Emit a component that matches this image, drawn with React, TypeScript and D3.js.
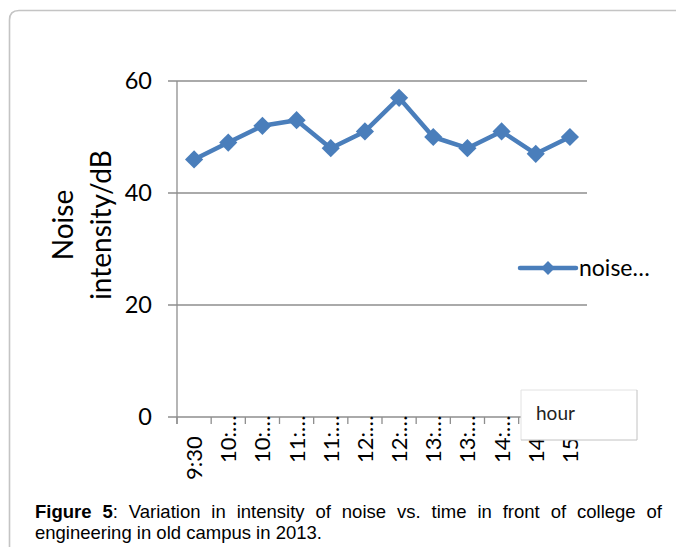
import React, { useLayoutEffect, useRef, useState } from 'react';
import * as d3 from 'd3';

const timeLabels = ["9:30", "10:…", "10:…", "11:…", "11:…", "12:…", "12:…", "13:…", "13:…", "14:…", "14", "15"];
const noiseValues = [46, 49, 52, 53, 48, 51, 57, 50, 48, 51, 47, 50];
const yTicks = [0, 20, 40, 60];
const seriesName = "noise…";
const yTitleLines = ["Noise", "intensity/dB"];
const xTitle = "hour";
const captionBold = "Figure 5";
const captionLine1 = ": Variation in intensity of noise vs. time in front of college of";
const captionLine2 = "engineering in old campus in 2013.";

const W = 676;
const H = 547;
const BLUE = "#4a7ebb";
const GRID = "#8e8e8e";
const CHART_FONT = "Lato, 'Open Sans', sans-serif";
const CAP_FONT = "'Liberation Sans', Arial, sans-serif";

export default function App() {
  const x = d3.scaleBand<string>()
    .domain(timeLabels.map((_, i) => String(i)))
    .range([177, 587]);
  const y = d3.scaleLinear().domain([0, 60]).range([417, 81]);
  const cx = (i: number) => (x(String(i)) as number) + x.bandwidth() / 2;

  const line = d3.line<number>()
    .x((_, i) => cx(i))
    .y((d) => y(d));

  const diamond = d3.symbol().type(d3.symbolSquare).size(165)();
  const legendDiamond = d3.symbol().type(d3.symbolSquare).size(95)();

  const capRef = useRef<SVGTextElement>(null);
  const [ws, setWs] = useState(0);
  const capLeft = 35;
  const capRight = 662;
  useLayoutEffect(() => {
    if (capRef.current) {
      const nat = capRef.current.getComputedTextLength();
      const full = captionBold + captionLine1;
      const gaps = full.split(" ").length - 1;
      setWs((capRight - capLeft - nat) / gaps);
    }
  }, []);

  const boundaries = d3.range(timeLabels.length + 1).map((i) =>
    i < timeLabels.length ? (x(String(i)) as number) : x.range()[1]
  );

  return (
    <svg
      width={W}
      height={H}
      style={{ position: 'absolute', left: 0, top: 0, background: '#fff' }}
    >
      {/* outer frame */}
      <path
        d={`M 9.5 ${H + 5} L 9.5 20 Q 9.5 10.5 19 10.5 L ${W + 5} 10.5`}
        fill="none"
        stroke="#c4c4c4"
        strokeWidth={1.6}
      />

      {/* gridlines + y ticks */}
      {yTicks.map((t) => (
        <g key={t}>
          <line x1={168} x2={t === 0 ? 521 : 587} y1={y(t)} y2={y(t)} stroke={GRID} strokeWidth={1.3} />
          <text
            x={152}
            y={y(t)}
            dy="0.36em"
            textAnchor="end"
            fontFamily={CHART_FONT}
            fontSize={23.5}
            fill="#000"
          >
            {t}
          </text>
        </g>
      ))}

      {/* y axis */}
      <line x1={177} x2={177} y1={y(60)} y2={424} stroke={GRID} strokeWidth={1.3} />

      {/* x ticks */}
      {boundaries.map((b, i) => (
        <line key={i} x1={b} x2={b} y1={417} y2={424} stroke={GRID} strokeWidth={1.3} />
      ))}

      {/* x labels */}
      {timeLabels.map((lab, i) => {
        const full = !lab.endsWith("…") && lab.length > 3;
        const yy = full ? 480 : 463;
        return (
          <text
            key={i}
            transform={`translate(${cx(i)},${yy}) rotate(-90)`}
            dy="0.36em"
            textAnchor="start"
            fontFamily={CHART_FONT}
            fontSize={22}
            fill="#000"
          >
            {lab}
          </text>
        );
      })}

      {/* series line */}
      <path
        d={line(noiseValues) || ''}
        fill="none"
        stroke={BLUE}
        strokeWidth={4.5}
        strokeLinejoin="round"
        strokeLinecap="round"
      />
      {noiseValues.map((v, i) => (
        <path
          key={i}
          d={diamond || ''}
          transform={`translate(${cx(i)},${y(v)}) rotate(45)`}
          fill={BLUE}
        />
      ))}

      {/* y title */}
      {yTitleLines.map((t, i) => (
        <text
          key={t}
          transform={`translate(${73 + i * 38},225) rotate(-90)`}
          textAnchor="middle"
          fontFamily={CHART_FONT}
          fontSize={28}
          fill="#000"
        >
          {t}
        </text>
      ))}

      {/* legend */}
      <line x1={520} x2={576} y1={268} y2={268} stroke={BLUE} strokeWidth={4.5} strokeLinecap="round" />
      <path d={legendDiamond || ''} transform={`translate(548,268) rotate(45)`} fill={BLUE} />
      <text x={579} y={268} dy="0.36em" fontFamily={CHART_FONT} fontSize={23} fill="#000">
        {seriesName}
      </text>

      {/* hour box */}
      <rect x={521} y={390} width={116} height={50} fill="#fff" />
      <line x1={521} x2={637} y1={390} y2={390} stroke="#e2e2e2" strokeWidth={1} />
      <line x1={521} x2={521} y1={390} y2={440} stroke="#e2e2e2" strokeWidth={1} />
      <line x1={637} x2={637} y1={390} y2={440} stroke="#c2c2c2" strokeWidth={1} />
      <line x1={521} x2={637} y1={440} y2={440} stroke="#c2c2c2" strokeWidth={1} />
      <text x={536} y={420} fontFamily={CHART_FONT} fontSize={19} fill="#222">
        {xTitle}
      </text>

      {/* caption */}
      <text
        ref={capRef}
        x={capLeft}
        y={518}
        fontFamily={CAP_FONT}
        fontSize={18.5}
        fill="#000"
        style={{ wordSpacing: `${ws}px` }}
      >
        <tspan fontWeight="bold">{captionBold}</tspan>
        <tspan>{captionLine1}</tspan>
      </text>
      <text x={capLeft} y={539} fontFamily={CAP_FONT} fontSize={18.5} fill="#000">
        {captionLine2}
      </text>
    </svg>
  );
}
